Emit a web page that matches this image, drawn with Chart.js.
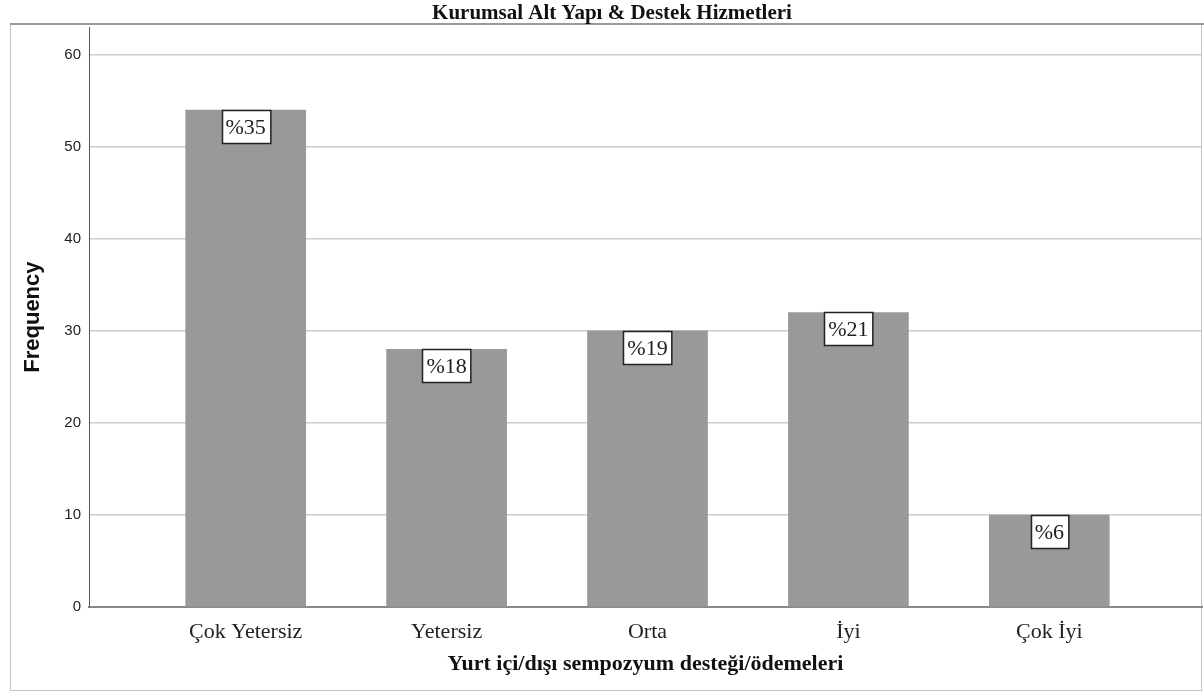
<!DOCTYPE html>
<html>
<head>
<meta charset="utf-8">
<script src="https://cdn.jsdelivr.net/npm/chart.js@4"></script>
<style>
  html, body { margin: 0; padding: 0; background: #fff; }
  #wrap { width: 1204px; height: 692px; }
</style>
</head>
<body>
<div id="wrap"><canvas id="freqChart" width="1204" height="692"></canvas></div>
<script>
// Data
const chartTitle = 'Kurumsal Alt Yapı & Destek Hizmetleri';
const xTitle = 'Yurt içi/dışı sempozyum desteği/ödemeleri';
const categories = ['Çok Yetersiz', 'Yetersiz', 'Orta', 'İyi', 'Çok İyi'];
const frequencies = [54, 28, 30, 32, 10];
const percentLabels = ['%35', '%18', '%19', '%21', '%6'];
const yTicks = [0, 10, 20, 30, 40, 50, 60];

const serif = '"Liberation Serif", "Times New Roman", serif';
const sans = '"Liberation Sans", Arial, sans-serif';

// outer frame like the SPSS output box
const framePlugin = {
    id: 'frame',
    beforeDraw(chart) {
        const c = chart.ctx;
        c.save();
        c.strokeStyle = '#c4c4c4';
        c.lineWidth = 1;
        c.strokeRect(10.5, 24.5, 1191, 666);
        c.strokeStyle = '#9a9a9a';
        c.lineWidth = 2;
        c.beginPath();
        c.moveTo(10, 24);
        c.lineTo(1204, 24);
        c.stroke();
        c.restore();
    }
};

// boxed percentage labels sitting on top of each bar
const boxLabels = {
    id: 'boxLabels',
    afterDatasetsDraw(chart) {
        const c = chart.ctx;
        const meta = chart.getDatasetMeta(0);
        c.save();
        c.font = '22px ' + serif;
        c.textAlign = 'center';
        c.textBaseline = 'middle';
        meta.data.forEach((bar, i) => {
            const txt = percentLabels[i];
            const w = c.measureText(txt).width + 8;
            const h = 33;
            const x = Math.round(bar.x - w / 2) + 0.5;
            const y = Math.round(bar.y) + 0.5;
            c.fillStyle = '#fff';
            c.fillRect(x, y, w, h);
            c.strokeStyle = '#222';
            c.lineWidth = 1.5;
            c.strokeRect(x, y, w, h);
            c.fillStyle = '#222';
            c.fillText(txt, bar.x, y + h / 2 + 1);
        });
        c.restore();
    }
};

const ctx = document.getElementById('freqChart').getContext('2d');
const chart = new Chart(ctx, {
    type: 'bar',
    data: {
        datasets: [{
            label: 'Frequency',
            data: frequencies.map((v, i) => ({ x: i, y: v })),
            backgroundColor: '#999999',
            borderWidth: 0,
            barThickness: 120
        }]
    },
    plugins: [framePlugin, boxLabels],
    options: {
        responsive: false,
        animation: false,
        layout: { padding: { left: 22, right: 2, top: 0, bottom: 0 } },
        plugins: {
            legend: { display: false },
            tooltip: { enabled: false },
            title: {
                display: true,
                text: chartTitle,
                color: '#111',
                font: { family: serif, size: 21, weight: 'bold' },
                padding: { top: 1, bottom: 1 }
            }
        },
        scales: {
            x: {
                type: 'linear',
                offset: false,
                min: -0.78,
                max: 4.76,
                afterBuildTicks: s => { s.ticks = categories.map((c, i) => ({ value: i })); },
                afterFit: s => { s.height = 85; },
                grid: { display: false, drawTicks: false, offset: false },
                border: { display: true, color: '#8a8a8a', width: 2 },
                ticks: {
                    padding: 12,
                    color: '#222',
                    font: { family: serif, size: 22 },
                    maxRotation: 0,
                    autoSkip: false,
                    callback: v => categories[v]
                },
                title: {
                    display: true,
                    text: xTitle,
                    color: '#111',
                    font: { family: serif, size: 22, weight: 'bold' },
                    padding: { top: 0, bottom: 14 }
                }
            },
            y: {
                min: 0,
                max: 63,
                afterBuildTicks: s => { s.ticks = yTicks.map(v => ({ value: v })); },
                afterFit: s => { s.width = 67; },
                grid: {
                    drawTicks: false,
                    color: c => c.tick && c.tick.value === 0 ? 'rgba(0,0,0,0)' : '#cdcdcd',
                    lineWidth: 1.5
                },
                border: { display: true, color: '#555', width: 1 },
                ticks: {
                    padding: 8,
                    color: '#222',
                    font: { family: sans, size: 15 }
                },
                title: {
                    display: true,
                    text: 'Frequency',
                    color: '#111',
                    font: { family: sans, size: 22, weight: 'bold' },
                    padding: { top: -2, bottom: 0 }
                }
            }
        }
    }
});
</script>
</body>
</html>
